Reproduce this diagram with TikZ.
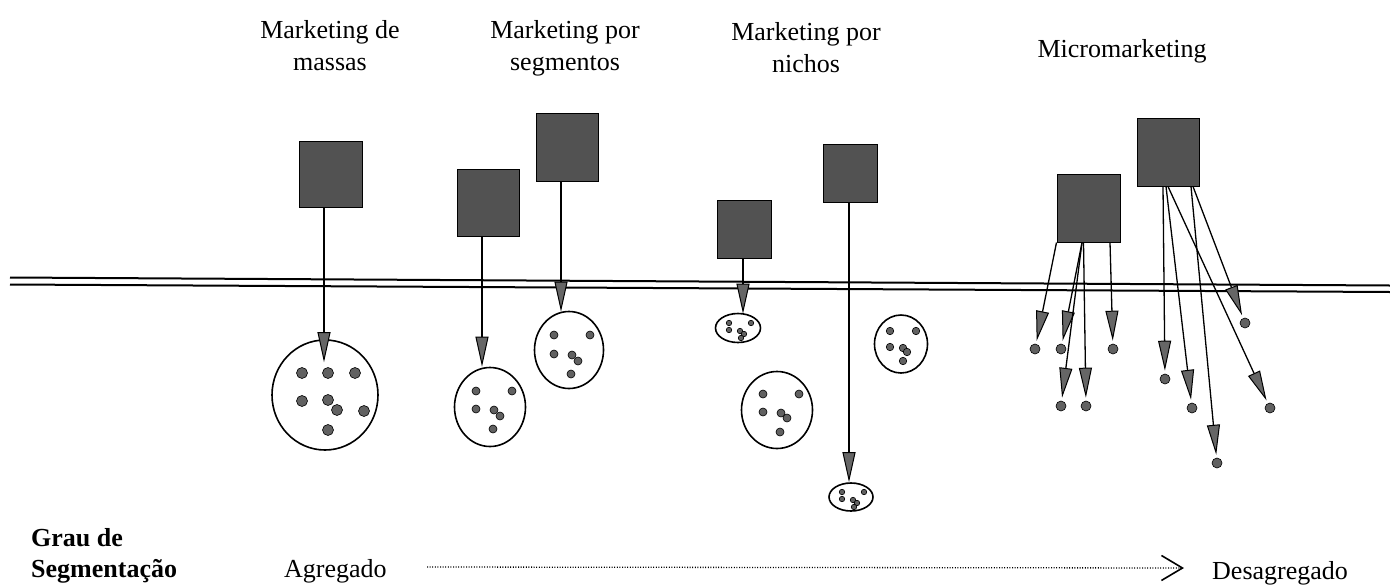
\documentclass[tikz,border=0pt]{standalone}
\usepackage{fontspec}
\setmainfont{Liberation Serif}
\usetikzlibrary{arrows.meta,shapes.geometric,calc}
\begin{document}
\begin{tikzpicture}[x=1pt,y=-1pt,
  sq/.style={draw=black,line width=1pt,fill=black!68,inner sep=0pt},
  grp/.style={ellipse,draw=black,line width=1.6pt,inner sep=0pt},
  pt/.style={circle,draw=black,line width=0.6pt,fill=black!62,inner sep=0pt,minimum size=#1},
  pt/.default=10pt,
  arr/.style={line width=1.3pt,-{Triangle[length=30pt,width=13pt,fill=black!60,line width=1pt]}},
  lbl/.style={font=\fontsize{26}{32}\selectfont,align=center,inner sep=0pt},
  txt/.style={font=\fontsize{26}{31}\selectfont,align=left,inner sep=0pt},
  rule/.style={line width=2pt},
  dotarrow/.style={line width=1.3pt,dash pattern=on 1pt off 1.6pt,-{Straight Barb[length=21pt,width=25pt,line width=1.6pt]}}
]
\useasboundingbox[fill=white] (0,0) rectangle (1390,587);

% titles (anchor base = baseline of the last line)
\node[lbl,anchor=base] (t1) at (330,70) {Marketing de\\massas};
\node[lbl,anchor=base] (t2) at (565,70) {Marketing por\\segmentos};
\node[lbl,anchor=base] (t3) at (806,72) {Marketing por\\nichos};
\node[lbl,anchor=base] (t4) at (1122,57) {Micromarketing};

% double line
\coordinate (la) at (10,277.5);
\coordinate (lb) at (1390,285.5);
\coordinate (lc) at (10,284.5);
\coordinate (ld) at (1390,292);
\draw[rule] (la) -- (lb);
\draw[rule] (lc) -- (ld);

% marketing de massas
\node[sq,minimum width=63pt,minimum height=66pt] (s1) at (330.5,174) {};
\node[grp,minimum width=106pt,minimum height=110pt] (c1) at (325,395) {};
\foreach \p [count=\k] in {(302,373),(328,373),(355,373),(302,401),(328,400),(337,410),(364,411),(328,430)}
  \node[pt=11pt] (c1d\k) at \p {};
\draw[arr] ([xshift=-6.5pt]s1.south) -- ([xshift=-1pt,yshift=-23pt]c1.north);

% marketing por segmentos
\node[sq,minimum width=62pt,minimum height=67pt] (s2) at (488,202.5) {};
\node[grp,minimum width=71pt,minimum height=79pt] (c2) at (490,407) {};
\foreach \p [count=\k] in {(476,391),(512,391),(476,409),(494,410),(500,416),(493,429)}
  \node[pt=8pt] (c2d\k) at \p {};
\draw[arr] ([xshift=-6pt]s2.south) -- ([xshift=-8pt]c2.north);

\node[sq,minimum width=62pt,minimum height=68pt] (s3) at (567,147) {};
\node[grp,minimum width=69pt,minimum height=77pt] (c3) at (569,350) {};
\foreach \p [count=\k] in {(554,335),(590,335),(554,354),(572,355),(578,361),(571,374)}
  \node[pt=8pt] (c3d\k) at \p {};
\draw[arr] ([xshift=-6pt]s3.south) -- ([xshift=-8pt,yshift=-1pt]c3.north);

% marketing por nichos
\node[sq,minimum width=54pt,minimum height=58pt] (s4) at (744,229) {};
\node[grp,minimum width=45pt,minimum height=29pt] (e4) at (738,328) {};
\foreach \p [count=\k] in {(729,323),(751,323),(729,330),(740,331),(744,334),(741,338)}
  \node[pt=5.5pt] (e4d\k) at \p {};
\draw[arr] ([xshift=-1pt]s4.south) -- ([xshift=5pt,yshift=-1pt]e4.north);

\node[sq,minimum width=54pt,minimum height=58pt] (s5) at (850,173) {};
\node[grp,minimum width=44pt,minimum height=28pt] (e5) at (851,497) {};
\foreach \p [count=\k] in {(842,492),(864,492),(842,499),(853,500),(857,503),(854,507)}
  \node[pt=5.5pt] (e5d\k) at \p {};
\draw[arr] ([xshift=-1pt]s5.south) -- ([xshift=-2pt]e5.north);

\node[grp,minimum width=53pt,minimum height=58pt] (c6) at (901,344) {};
\foreach \p [count=\k] in {(890,331),(916,331),(890,347),(903,348),(907,352),(903,361)}
  \node[pt=7.5pt] (c6d\k) at \p {};
\node[grp,minimum width=71pt,minimum height=77pt] (c7) at (777,410) {};
\foreach \p [count=\k] in {(763,394),(799,394),(763,412),(781,413),(787,418),(780,432)}
  \node[pt=8pt] (c7d\k) at \p {};

% micromarketing
\node[sq,minimum width=63pt,minimum height=68pt] (s6) at (1088.5,208) {};
\node[sq,minimum width=62pt,minimum height=68pt] (s7) at (1168,152) {};
\node[pt] (ma) at (1035,349) {};
\node[pt] (mb) at (1061,349) {};
\node[pt] (mc) at (1113,349) {};
\node[pt] (md) at (1061,406) {};
\node[pt] (me) at (1086,406) {};
\node[pt] (mf) at (1165,379) {};
\node[pt] (mg) at (1192,408) {};
\node[pt] (mh) at (1217,463) {};
\node[pt] (mi) at (1245,323) {};
\node[pt] (mj) at (1270,408) {};
\begin{scope}[every path/.append style={shorten >=3pt}]
\draw[arr] ([xshift=-32pt]s6.south) -- (ma);
\draw[arr] ([xshift=-6.5pt]s6.south) -- (mb);
\draw[arr] ([xshift=-6.5pt]s6.south) -- (md);
\draw[arr] ([xshift=-5pt]s6.south) -- (me);
\draw[arr] ([xshift=21.5pt]s6.south) -- (mc);
\draw[arr] ([xshift=-5pt]s7.south) -- (mf);
\draw[arr] ([xshift=-2pt]s7.south) -- (mg);
\draw[arr] ([xshift=0pt]s7.south) -- (mj);
\draw[arr] ([xshift=23pt]s7.south) -- (mh);
\draw[arr] ([xshift=25pt]s7.south) -- (mi);
\end{scope}

% bottom scale
\node[txt,anchor=base west,font=\fontsize{26}{31}\selectfont\bfseries] (gs) at (31,577) {Grau de\\Segmenta\c{c}\~ao};
\node[txt,anchor=base west] (ag) at (284,577) {Agregado};
\node[txt,anchor=base west] (de) at (1212,579) {Desagregado};
\coordinate (d0) at (427,567);
\coordinate (d1) at (1184,568);
\draw[dotarrow] (d0) -- (d1);
\end{tikzpicture}
\end{document}
